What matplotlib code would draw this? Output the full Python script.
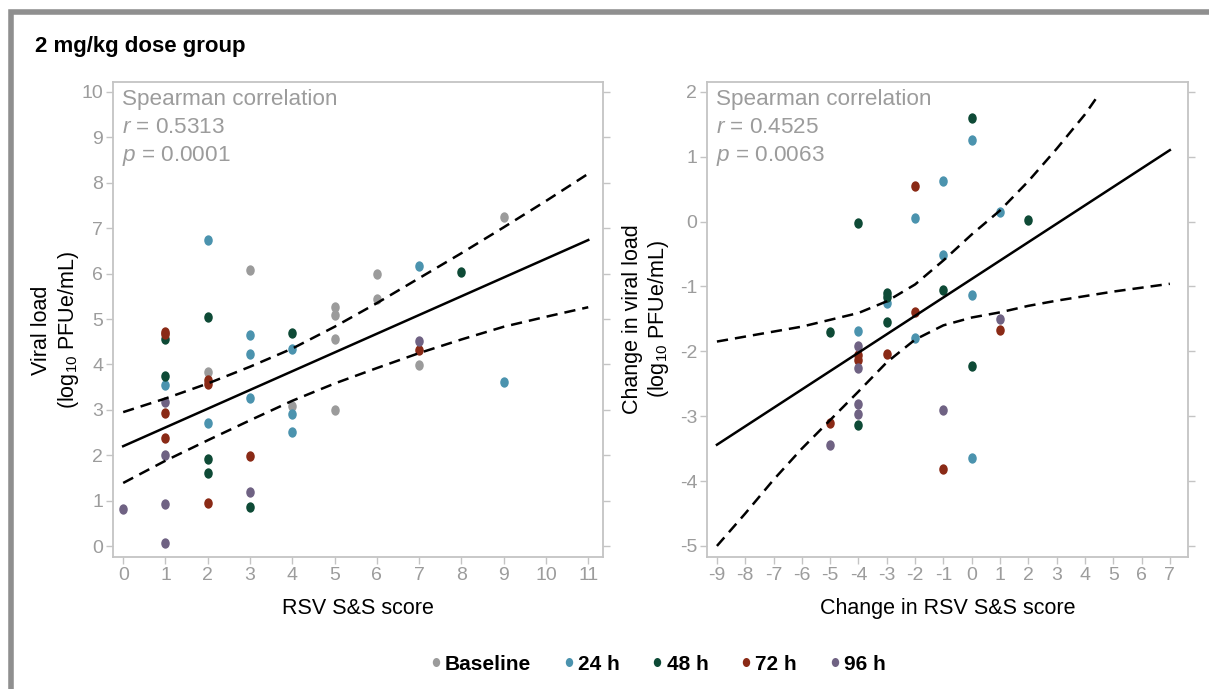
import matplotlib
matplotlib.use('Agg')
import matplotlib.pyplot as plt
from matplotlib.path import Path
from matplotlib.patches import Rectangle
from matplotlib.lines import Line2D

plt.rcParams['font.family'] = ['Liberation Sans', 'DejaVu Sans']
plt.rcParams['mathtext.fontset'] = 'custom'
plt.rcParams['mathtext.rm'] = 'Liberation Sans'
plt.rcParams['mathtext.it'] = 'Liberation Sans:italic'
plt.rcParams['axes.unicode_minus'] = False

# groups / colours
groups = ['Baseline', '24 h', '48 h', '72 h', '96 h']
group_colors = ['#9b9b9b', '#4b93ae', '#0e4a36', '#8a2a16', '#6f6283']

# left panel: RSV S&S score vs viral load
left_x = [0,
          1, 1, 1, 1, 1, 1, 1, 1, 1, 1, 1,
          2, 2, 2, 2, 2, 2, 2, 2, 2,
          3, 3, 3, 3, 3, 3, 3,
          4, 4, 4, 4, 4,
          5, 5, 5, 5,
          6, 6,
          7, 7, 7, 7,
          8,
          9, 9]
left_y = [0.81,
          4.72, 4.66, 4.57, 3.75, 3.55, 3.18, 2.94, 2.37, 2.0, 0.93, 0.06,
          6.74, 5.04, 3.84, 3.66, 3.57, 2.7, 1.91, 1.62, 0.95,
          6.09, 4.65, 4.22, 3.27, 1.99, 1.2, 0.85,
          4.69, 4.35, 3.09, 2.91, 2.51,
          5.26, 5.09, 4.57, 3.0,
          6.0, 5.44,
          6.17, 4.51, 4.32, 3.99,
          6.03,
          7.25, 3.62]
left_grp = [4,
            3, 3, 2, 2, 1, 4, 3, 3, 4, 4, 4,
            1, 2, 0, 3, 3, 1, 2, 2, 3,
            0, 1, 1, 1, 3, 4, 2,
            2, 1, 0, 1, 1,
            0, 0, 0, 0,
            0, 0,
            1, 4, 3, 0,
            2,
            0, 1]

# left fit line and 95% band
left_fit_x = [0, 11]
left_fit_y = [2.2, 6.74]
left_band_x = [0, 1, 2, 3, 4, 5, 6, 7, 8, 9, 10, 11]
left_upper = [2.95, 3.25, 3.58, 3.95, 4.35, 4.83, 5.35, 5.9, 6.45, 7.02, 7.6, 8.2]
left_lower = [1.39, 1.88, 2.33, 2.77, 3.2, 3.58, 3.92, 4.25, 4.55, 4.83, 5.05, 5.26]

# right panel: change in score vs change in viral load
right_x = [-5, -5, -5,
           -4, -4, -4, -4, -4, -4, -4, -4, -4,
           -3, -3, -3, -3, -3,
           -2, -2, -2, -2,
           -1, -1, -1, -1, -1,
           0, 0, 0, 0, 0,
           1, 1, 1,
           2]
right_y = [-1.71, -3.1, -3.45,
           -0.03, -1.69, -1.92, -2.05, -2.14, -2.26, -2.82, -2.97, -3.14,
           -1.1, -1.16, -1.25, -1.55, -2.04,
           0.55, 0.06, -1.39, -1.8,
           0.63, -0.51, -1.06, -2.91, -3.81,
           1.59, 1.25, -1.14, -2.22, -3.65,
           0.14, -1.51, -1.67,
           0.02]
right_grp = [2, 3, 4,
             2, 1, 4, 3, 3, 4, 4, 4, 2,
             2, 2, 1, 2, 3,
             3, 1, 3, 1,
             1, 1, 2, 4, 3,
             2, 1, 1, 2, 1,
             1, 4, 3,
             2]

right_fit_x = [-9, 7]
right_fit_y = [-3.44, 1.1]
right_upper_x = [-9, -6, -4, -3, -2, -1, 0, 1, 2, 3, 4, 4.4]
right_upper = [-1.85, -1.62, -1.41, -1.23, -0.97, -0.6, -0.2, 0.17, 0.62, 1.12, 1.65, 1.9]
right_lower_x = [-9, -8, -7, -6, -5, -4, -3, -2, -1, 0, 1, 2, 3, 4, 5, 6, 7]
right_lower = [-5.0, -4.5, -3.98, -3.5, -3.06, -2.62, -2.17, -1.82, -1.6, -1.48, -1.4,
               -1.3, -1.22, -1.15, -1.08, -1.02, -0.96]

# slightly tall ellipse marker like the original
circ = Path.unit_circle()
ellipse = Path(circ.vertices * [0.82, 1.0], circ.codes)

TICK_GRAY = '#9c9c9c'
FRAME_GRAY = '#c4c4c4'


def style_axis(ax):
    for s in ax.spines.values():
        s.set_color(FRAME_GRAY)
        s.set_linewidth(1.3)
    ax.tick_params(axis='both', direction='out', length=5, width=1, color=FRAME_GRAY,
                   labelcolor=TICK_GRAY, labelsize=14, pad=2)
    ax.tick_params(axis='y', right=True)


def scatter_groups(ax, xs, ys, gs):
    for gi, name in enumerate(groups):
        px = [x for x, g in zip(xs, gs) if g == gi]
        py = [y for y, g in zip(ys, gs) if g == gi]
        ax.scatter(px, py, marker=ellipse, s=56, color=group_colors[gi], linewidths=0, zorder=3)


def stats_text(ax, r, p):
    ax.text(0.018, 0.985, 'Spearman correlation', transform=ax.transAxes, va='top',
            ha='left', fontsize=16.2, color=TICK_GRAY)
    ax.text(0.018, 0.927, '$r$ = ' + r, transform=ax.transAxes, va='top',
            ha='left', fontsize=16.2, color=TICK_GRAY)
    ax.text(0.018, 0.869, '$p$ = ' + p, transform=ax.transAxes, va='top',
            ha='left', fontsize=16.2, color=TICK_GRAY)


fig = plt.figure(figsize=(12.09, 6.89), dpi=100)

ax1 = fig.add_axes([0.0935, 0.1916, 0.4053, 0.6894])
ax2 = fig.add_axes([0.5848, 0.1916, 0.3978, 0.6894])

# left
scatter_groups(ax1, left_x, left_y, left_grp)
ax1.plot(left_fit_x, left_fit_y, color='black', lw=1.8, zorder=4)
for band in (left_upper, left_lower):
    ax1.plot(left_band_x, band, color='black', lw=1.8, dashes=(4.5, 2.8), zorder=4)
ax1.set_xlim(-0.24, 11.35)
ax1.set_ylim(-0.24, 10.22)
ax1.set_xticks(range(0, 12))
ax1.set_yticks(range(0, 11))
style_axis(ax1)
stats_text(ax1, '0.5313', '0.0001')
ax1.set_xlabel('RSV S&S score', fontsize=15.5, labelpad=10)
ax1.set_ylabel('Viral load\n(log$_{10}$ PFUe/mL)', fontsize=15.5)
ax1.yaxis.set_label_coords(-0.066, 0.478)

# right
scatter_groups(ax2, right_x, right_y, right_grp)
ax2.plot(right_fit_x, right_fit_y, color='black', lw=1.8, zorder=4)
ax2.plot(right_upper_x, right_upper, color='black', lw=1.8, dashes=(4.5, 2.8), zorder=4)
ax2.plot(right_lower_x, right_lower, color='black', lw=1.8, dashes=(4.5, 2.8), zorder=4)
ax2.set_xlim(-9.35, 7.64)
ax2.set_ylim(-5.17, 2.15)
ax2.set_xticks(range(-9, 8))
ax2.set_yticks(range(-5, 3))
style_axis(ax2)
stats_text(ax2, '0.4525', '0.0063')
ax2.set_xlabel('Change in RSV S&S score', fontsize=15.5, labelpad=10)
ax2.set_ylabel('Change in viral load\n(log$_{10}$ PFUe/mL)', fontsize=15.5, labelpad=6)

# title
fig.text(0.029, 0.932, '2 mg/kg dose group', fontsize=16, fontweight='bold', va='center')

# legend
handles = [Line2D([], [], marker=ellipse, ls='none', markersize=6.5, color=c, markeredgewidth=0)
           for c in group_colors]
leg = fig.legend(handles, groups, loc='center', bbox_to_anchor=(0.543, 0.036), ncol=5,
                 frameon=False, handletextpad=0.05, columnspacing=1.4, handlelength=0.8,
                 prop={'weight': 'bold', 'size': 15})

# grey outer frame
fig.add_artist(Rectangle((0.0095, -0.2), 1.2, 0.2 + 0.983, transform=fig.transFigure,
                         fill=False, edgecolor='#8f8f8f', lw=4))

fig.savefig('out.png', dpi=100)
